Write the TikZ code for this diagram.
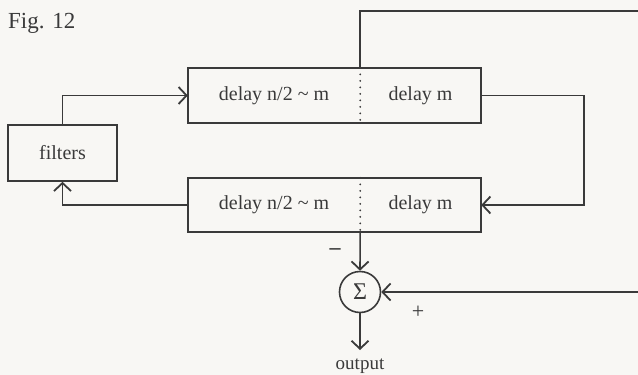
\documentclass[tikz,border=0pt]{standalone}
\usepackage{fontspec}
\setmainfont{Liberation Serif}
\usetikzlibrary{arrows.meta}
\definecolor{ink}{HTML}{3A3A3A}
\definecolor{paper}{HTML}{F8F7F4}
\tikzset{
  ln/.style={draw=ink, line width=1.6pt},
  arr/.style={ln, -{Straight Barb[length=8pt,width=17pt,line width=1.8pt]}},
  half/.style={minimum height=55pt, inner sep=0pt, text=ink, font=\fontsize{20}{24}\selectfont},
  lbl/.style={text=ink, inner sep=0pt, font=\fontsize{20}{24}\selectfont},
  divider/.style={draw=ink, line width=2pt, line cap=round, dash pattern=on 0pt off 6.5pt}
}
\begin{document}
\begin{tikzpicture}[x=1pt,y=-1pt]
\fill[paper] (0,0) rectangle (638,375);
\useasboundingbox (0,0) rectangle (638,375);

\node[lbl, font=\fontsize{23}{27}\selectfont, anchor=west] (fig) at (8,23) {Fig. 12};

\node[half, draw=ink, line width=1.6pt, minimum width=109pt, minimum height=56pt] (filt) at (62.5,153) {filters};

\node[half, minimum width=172pt] (tl) at (274,95.5) {delay n/2 \textasciitilde{} m};
\node[half, minimum width=121pt] (tr) at (420.5,95.5) {delay m};
\node[half, minimum width=172pt, minimum height=54pt] (bl) at (274,205) {delay n/2 \textasciitilde{} m};
\node[half, minimum width=121pt, minimum height=54pt] (br) at (420.5,205) {delay m};
\draw[ln] (tl.north west) rectangle (tr.south east);
\draw[ln] (bl.north west) rectangle (br.south east);
\draw[divider] (tl.north east) -- (tl.south east);
\draw[divider] (bl.north east) -- (bl.south east);

\node[circle, draw=ink, line width=1.6pt, minimum size=41pt, inner sep=0pt,
      font=\fontsize{24}{28}\selectfont, text=ink] (sum) at (360,292) {Σ};

\coordinate (loopc) at (642,11);
\coordinate (out) at (360,350);

\draw[arr] (filt.north) |- (tl.west);
\draw[arr] (bl.west) -| (filt.south);
\draw[arr] (tr.east) -- ++(103,0) |- (br.east);
\draw[arr] (tl.north east) |- (loopc) |- (sum.east);
\draw[arr] (bl.south east) -- (sum.north);
\draw[arr] (sum.south) -- (out);

\node[lbl, font=\fontsize{19}{22}\selectfont] (outl) at (360,366) {output};
\node[lbl, font=\fontsize{22}{24}\bfseries] (minus) at (335,252) {–};
\node[lbl, font=\fontsize{22}{24}\selectfont] (plus) at (418,312) {+};
\end{tikzpicture}
\end{document}
